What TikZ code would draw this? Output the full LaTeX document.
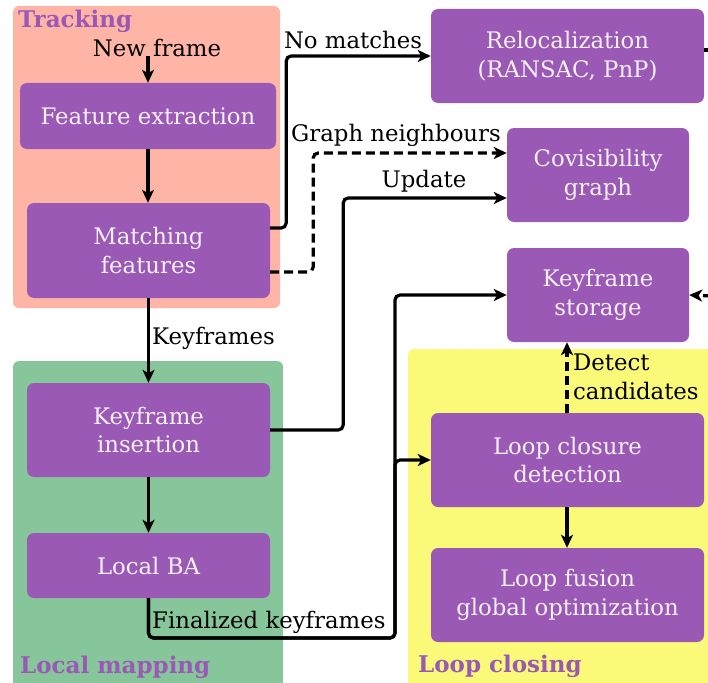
\documentclass[tikz,border=0pt]{standalone}
\usepackage{fontspec}
\setmainfont{DejaVu Serif}
\usetikzlibrary{arrows.meta,calc}
\definecolor{boxpurple}{HTML}{9B59B6}
\definecolor{salmon}{HTML}{FFB5A5}
\definecolor{grn}{HTML}{86C69A}
\definecolor{yel}{HTML}{FAFA78}
\definecolor{boxtext}{HTML}{F4F0F6}
\begin{document}
\begin{tikzpicture}[x=1pt,y=-1pt,
  proc/.style={fill=boxpurple, rounded corners=7pt, text=boxtext, align=center, inner sep=0pt,
    font=\fontsize{22.8}{28.5}\selectfont},
  grp/.style={rounded corners=6pt},
  grplabel/.style={text=boxpurple, font=\fontsize{23}{26}\selectfont\bfseries, inner sep=0pt, anchor=base west},
  lbl/.style={font=\fontsize{22.8}{28.5}\selectfont, inner sep=0pt},
  arr/.style={line width=3.2pt, -{Stealth[length=13pt,width=12pt,inset=3.5pt]}, rounded corners=5pt},
  dsh/.style={arr, dash pattern=on 9pt off 5pt}
]
\useasboundingbox (0,0) rectangle (708,682);
\fill[white] (0,0) rectangle (708,682);
\begin{scope}
\clip (0,0) rectangle (708,682);
% groups
\fill[salmon,grp] (13,6) rectangle (280,308);
\fill[grn,grp] (13,361) rectangle (283,692);
\fill[yel,grp] (408,349) rectangle (720,692);
\node[grplabel] (gt) at (18,28) {Tracking};
\node[grplabel] (gl) at (20,673) {Local mapping};
\node[grplabel] (gc) at (418,672) {Loop closing};

% process boxes
\node[proc, minimum width=256pt, minimum height=66pt] (fe) at (148,116) {Feature extraction};
\node[proc, minimum width=243pt, minimum height=95pt] (mf) at (148.5,250.5) {Matching\\features};
\node[proc, minimum width=243pt, minimum height=94pt] (ki) at (148.5,430) {Keyframe\\insertion};
\node[proc, minimum width=243pt, minimum height=65pt] (lba) at (148.5,565.5) {Local BA};
\node[proc, minimum width=273pt, minimum height=94pt] (rel) at (567.5,56) {Relocalization\\(RANSAC, PnP)};
\node[proc, minimum width=182pt, minimum height=94pt] (cov) at (598,175) {Covisibility\\graph};
\node[proc, minimum width=182pt, minimum height=94pt] (kfs) at (598,295) {Keyframe\\storage};
\node[proc, minimum width=273pt, minimum height=94pt] (lcd) at (567.5,460) {Loop closure\\detection};
\node[proc, minimum width=273pt, minimum height=94pt] (lf) at (567.5,595) {Loop fusion\\global optimization};

% labels
\node[lbl] (nf) at (157,48) {New frame};
\node[lbl] (nm) at (353,40) {No matches};
\node[lbl] (gn) at (396,135) {Graph neighbours};
\node[lbl] (up) at (424,181) {Update};
\node[lbl, anchor=west] (kf) at (152,338) {Keyframes};
\node[lbl, anchor=west] (fk) at (152,622) {Finalized keyframes};
\node[lbl, anchor=west, align=left] (dc) at (573,377) {Detect\\candidates};

% coordinates
\coordinate (nfa) at (148,56);
\coordinate (fkc) at (395,638);
\coordinate (rr) at (712,50);
\coordinate (kr) at (712,296);

% connectors
\draw[arr] (nfa) -- (fe.north -| nfa);
\draw[arr] (fe.south) -- (fe.south |- mf.north);
\draw[arr] ($(mf.east)+(0,-22.5)$) -- ++(16,0) |- (rel.west);
\draw[dsh] ($(mf.east)+(0,21.5)$) -- ++(43,0) |- ($(cov.west)+(0,-22)$);
\draw[arr] (ki.east) -- ++(73,0) |- ($(cov.west)+(0,23)$);
\draw[arr] (mf.south) -- (ki.north);
\draw[arr] (ki.south) -- (lba.north);
\draw[arr] (lba.south) |- (fkc) |- (lcd.west);
\draw[arr] (lba.south) |- (fkc) |- (kfs.west);
\draw[line width=3.2pt] ($(rel.east)+(0,-6)$) -- (rr);
\draw[dsh] (kr) -- (kfs.east);
\draw[dsh] (lcd.north -| 567,0) -- (kfs.south -| 567,0);
\draw[arr] (lcd.south -| 567,0) -- (lf.north -| 567,0);
\end{scope}
\end{tikzpicture}
\end{document}
